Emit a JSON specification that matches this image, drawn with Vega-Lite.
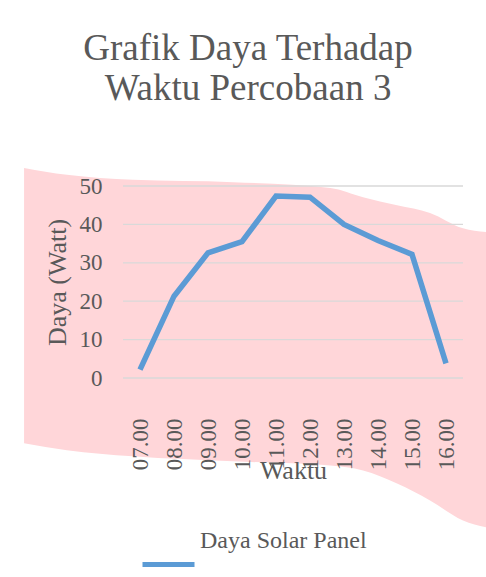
{
  "$schema": "https://vega.github.io/schema/vega-lite/v6.json",
  "width": 340,
  "height": 192,
  "autosize": {"type": "none"},
  "padding": {"left": 123, "top": 186, "right": 23, "bottom": 199},
  "background": "white",
  "config": {
    "view": {"stroke": null},
    "font": "Liberation Serif, serif",
    "title": {"font": "Liberation Serif, serif"},
    "axis": {"labelFont": "Liberation Serif, serif", "titleFont": "Liberation Serif, serif"},
    "legend": {"labelFont": "Liberation Serif, serif"}
  },
  "title": {
    "text": ["Grafik Daya Terhadap", "Waktu Percobaan 3"],
    "font": "Liberation Serif, serif",
    "fontSize": 37,
    "fontWeight": "normal",
    "color": "#595959",
    "lineHeight": 40,
    "anchor": "middle",
    "dx": -45,
    "offset": 60
  },
  "datasets": {
    "power": [
      {"waktu": "07.00", "daya": 2.2, "series": "Daya Solar Panel"},
      {"waktu": "08.00", "daya": 21.3, "series": "Daya Solar Panel"},
      {"waktu": "09.00", "daya": 32.6, "series": "Daya Solar Panel"},
      {"waktu": "10.00", "daya": 35.5, "series": "Daya Solar Panel"},
      {"waktu": "11.00", "daya": 47.4, "series": "Daya Solar Panel"},
      {"waktu": "12.00", "daya": 47.1, "series": "Daya Solar Panel"},
      {"waktu": "13.00", "daya": 40.0, "series": "Daya Solar Panel"},
      {"waktu": "14.00", "daya": 35.8, "series": "Daya Solar Panel"},
      {"waktu": "15.00", "daya": 32.2, "series": "Daya Solar Panel"},
      {"waktu": "16.00", "daya": 3.8, "series": "Daya Solar Panel"}
    ],
    "band": [
      {"h": 3.59, "top": 54.7, "bottom": -17.0},
      {"h": 4.85, "top": 52.9, "bottom": -18.8},
      {"h": 6.79, "top": 51.6, "bottom": -20.4},
      {"h": 9.74, "top": 51.0, "bottom": -21.7},
      {"h": 12.6, "top": 49.5, "bottom": -22.8},
      {"h": 13.56, "top": 47.1, "bottom": -24.1},
      {"h": 14.56, "top": 45.0, "bottom": -27.5},
      {"h": 15.53, "top": 43.0, "bottom": -31.9},
      {"h": 16.5, "top": 39.0, "bottom": -37.1},
      {"h": 17.18, "top": 38.0, "bottom": -38.9}
    ],
    "grid": [
      {"v": 0}, {"v": 10}, {"v": 20}, {"v": 30}, {"v": 40}, {"v": 50}
    ]
  },
  "layer": [
    {
      "data": {"name": "band"},
      "mark": {"type": "area", "color": "#FFD6D9", "clip": false, "interpolate": "monotone"},
      "encoding": {
        "x": {"field": "h", "type": "quantitative", "scale": {"domain": [6.5, 16.5], "nice": false, "zero": false}, "axis": null},
        "y": {"field": "top", "type": "quantitative", "scale": {"domain": [0, 50], "nice": false}, "axis": null},
        "y2": {"field": "bottom"}
      }
    },
    {
      "data": {"name": "grid"},
      "mark": {"type": "rule", "color": "#D9D9D9", "strokeWidth": 1.3},
      "encoding": {
        "y": {"field": "v", "type": "quantitative", "axis": null}
      }
    },
    {
      "data": {"name": "power"},
      "mark": {"type": "line", "strokeWidth": 5.5, "strokeCap": "butt", "strokeJoin": "miter"},
      "encoding": {
        "x": {
          "field": "waktu",
          "type": "ordinal",
          "scale": {"type": "point", "padding": 0.5},
          "axis": {
            "title": "Waktu",
            "titleFontSize": 26,
            "titleFontWeight": "normal",
            "titleColor": "#595959",
            "titlePadding": -12,
            "labelAngle": -90,
            "labelFontSize": 23,
            "labelColor": "#595959",
            "labelPadding": 40,
            "labelOverlap": false,
            "domain": false,
            "ticks": false,
            "grid": false,
            "zindex": 1
          }
        },
        "y": {
          "field": "daya",
          "type": "quantitative",
          "scale": {"domain": [0, 50], "nice": false},
          "axis": {
            "title": "Daya (Watt)",
            "titleFontSize": 26,
            "titleFontWeight": "normal",
            "titleColor": "#595959",
            "titlePadding": 9,
            "values": [0, 10, 20, 30, 40, 50],
            "labelFontSize": 23,
            "labelColor": "#595959",
            "labelPadding": 21,
            "labelOverlap": false,
            "domain": false,
            "ticks": false,
            "grid": false,
            "zindex": 1
          }
        },
        "color": {
          "field": "series",
          "type": "nominal",
          "scale": {"range": ["#5B9BD5"]},
          "legend": {
            "title": null,
            "orient": "none",
            "legendX": 17,
            "legendY": 333,
            "padding": 0,
            "symbolType": "M-1,0.65L1,0.65",
            "symbolSize": 2704,
            "symbolStrokeWidth": 5,
            "symbolFillColor": "transparent",
            "labelFontSize": 24,
            "labelColor": "#595959",
            "labelOffset": 3,
            "labelLimit": 400,
            "labelBaseline": "alphabetic"
          }
        }
      }
    }
  ],
  "resolve": {"scale": {"x": "independent"}, "axis": {"x": "independent", "y": "independent"}}
}
